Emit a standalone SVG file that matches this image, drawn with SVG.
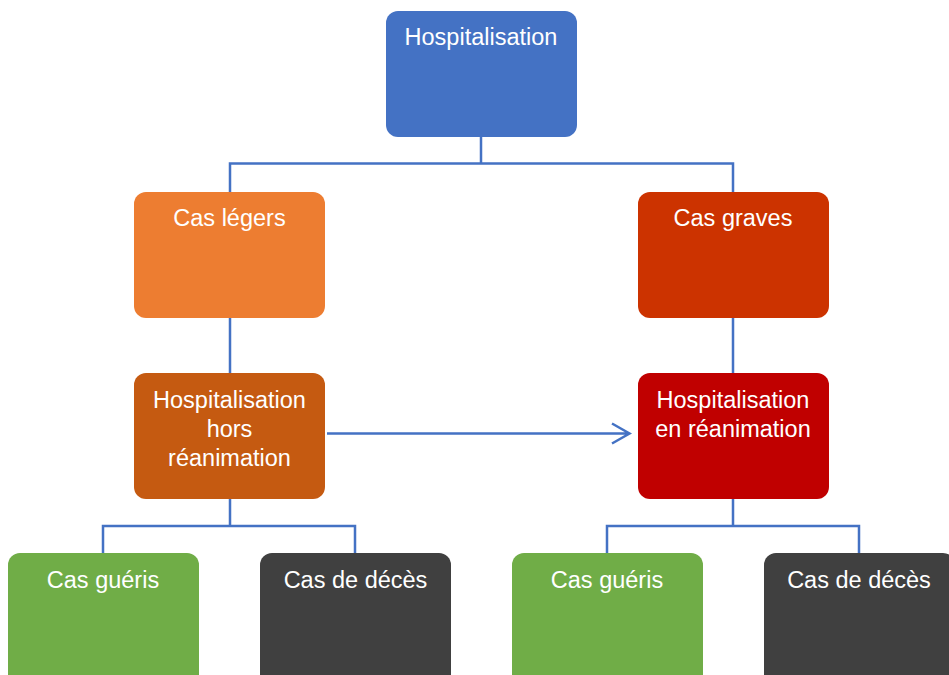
<svg xmlns="http://www.w3.org/2000/svg" width="949" height="675" viewBox="0 0 949 675">
<defs>
<style>
.n rect{stroke:none}
.n text{fill:#fff;font-family:"Liberation Sans",Arial,sans-serif;font-size:23.5px;text-anchor:middle}
.c{fill:none;stroke:#4472C4;stroke-width:2.5}
</style>
</defs>
<rect width="949" height="675" fill="#fff"/>
<g id="connectors">
<path class="c" d="M481 137V163.5M230 192V163.5H733V192"/>
<path class="c" d="M230 318V373M733 318V373"/>
<path class="c" d="M230 499V526M103 553V526H355V553"/>
<path class="c" d="M733 499V526M607 553V526H859V553"/>
<path class="c" d="M327 433.5H629M612 423.5L629.5 433.5L612 443.5" stroke-width="2.2"/>
</g>
<g id="hospitalisation" class="n"><rect x="386" y="11" width="191" height="126" rx="12" fill="#4472C4"/><text x="481" y="45">Hospitalisation</text></g>
<g id="cas-legers" class="n"><rect x="134" y="192" width="191" height="126" rx="12" fill="#ED7D31"/><text x="229.5" y="226">Cas légers</text></g>
<g id="cas-graves" class="n"><rect x="638" y="192" width="191" height="126" rx="12" fill="#CC3300"/><text x="733" y="226">Cas graves</text></g>
<g id="hors-reanimation" class="n"><rect x="134" y="373" width="191" height="126" rx="12" fill="#C55A11"/><text x="229.5" y="408">Hospitalisation</text><text x="229.5" y="437">hors</text><text x="229.5" y="466">réanimation</text></g>
<g id="en-reanimation" class="n"><rect x="638" y="373" width="191" height="126" rx="12" fill="#C00000"/><text x="733" y="408">Hospitalisation</text><text x="733" y="437">en réanimation</text></g>
<g id="gueris-1" class="n"><rect x="8" y="553" width="191" height="140" rx="12" fill="#70AD47"/><text x="103" y="588">Cas guéris</text></g>
<g id="deces-1" class="n"><rect x="260" y="553" width="191" height="140" rx="12" fill="#404040"/><text x="355.5" y="588">Cas de décès</text></g>
<g id="gueris-2" class="n"><rect x="512" y="553" width="191" height="140" rx="12" fill="#70AD47"/><text x="607" y="588">Cas guéris</text></g>
<g id="deces-2" class="n"><rect x="764" y="553" width="191" height="140" rx="12" fill="#404040"/><text x="859" y="588">Cas de décès</text></g>
</svg>
